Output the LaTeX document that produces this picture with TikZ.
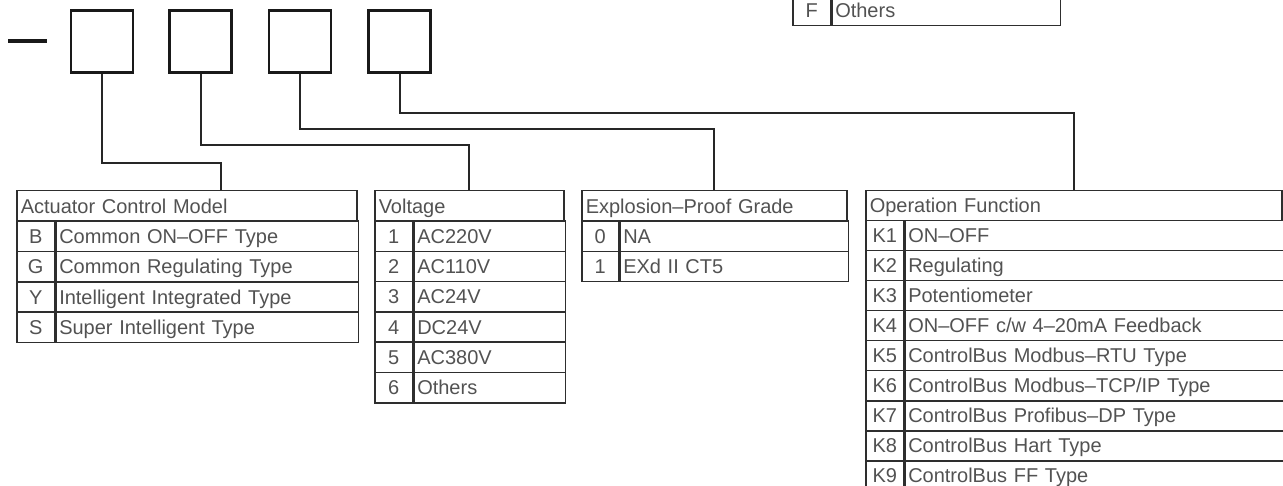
\documentclass[tikz,border=0pt]{standalone}
\usepackage{fontspec}
\setmainfont{Liberation Sans}
\begin{document}
\begin{tikzpicture}[x=1pt,y=-1pt,font=\fontsize{20}{24}\selectfont,
  digit/.style={draw=black!90,line width=2.2pt,minimum size=62pt,inner sep=0pt},
  link/.style={draw=black!85,line width=2pt},
  cellbase/.style={draw=black!82,line width=1.5pt,anchor=north west,text=black!68,
    minimum height=30.3pt,inner ysep=0pt,text height=14.4pt,text depth=0pt},
  headcell/.style={cellbase,inner xsep=4pt,align=left},
  codecell/.style={cellbase,minimum width=38pt,inner xsep=0pt},
  textcell/.style={cellbase,inner xsep=3pt,align=left}]
\useasboundingbox (0,0) rectangle (1283,486);
\clip (0,0) rectangle (1283,486);
% code boxes
\draw[line width=4.6pt,black!90] (8,41) -- (46.5,41);
\foreach \x [count=\n] in {102,200.5,300,399.5}{
  \node[digit] (box\n) at (\x,41.5) {};}
% last row of the table above
\node[codecell] (other-c) at (792,-5.3) {F};
\node[textcell,text width=222pt] (other-t) at (other-c.north east) {Others};
% actuator control model
\node[headcell,text width=332pt] (model) at (16,190) {Actuator Control Model};
\foreach \c/\t [count=\i] in {B/{Common ON–OFF Type},G/{Common Regulating Type},Y/{Intelligent Integrated Type},S/{Super Intelligent Type}}{
  \node[codecell] (model-c\i) at (16,{190+30.4*\i}) {\c};
  \node[textcell,text width=296pt] (model-t\i) at (model-c\i.north east) {\t};}
% voltage
\node[headcell,text width=181pt] (volt) at (374,190) {Voltage};
\foreach \c/\t [count=\i] in {1/AC220V,2/AC110V,3/AC24V,4/DC24V,5/AC380V,6/Others}{
  \node[codecell] (volt-c\i) at (374,{190+30.3*\i}) {\c};
  \node[textcell,text width=145pt] (volt-t\i) at (volt-c\i.north east) {\t};}
% explosion-proof grade
\node[headcell,text width=257pt] (expl) at (581,190) {Explosion–Proof Grade};
\foreach \c/\t [count=\i] in {0/NA,1/{EXd II CT5}}{
  \node[codecell,minimum width=37pt] (expl-c\i) at (581,{190+30.3*\i}) {\c};
  \node[textcell,text width=222pt] (expl-t\i) at (expl-c\i.north east) {\t};}
% operation function
\node[headcell,text width=408pt,minimum height=30pt] (oper) at (865,190) {Operation Function};
\foreach \c/\t [count=\i] in {K1/{ON–OFF},K2/{Regulating},K3/{Potentiometer},K4/{ON–OFF c/w 4–20mA Feedback},K5/{ControlBus Modbus–RTU Type},K6/{ControlBus Modbus–TCP/IP Type},K7/{ControlBus Profibus–DP Type},K8/{ControlBus Hart Type},K9/{ControlBus FF Type}}{
  \node[codecell,minimum height=30pt] (oper-c\i) at (865,{190+30*\i}) {\c};
  \node[textcell,text width=372pt,minimum height=30pt] (oper-t\i) at (oper-c\i.north east) {\t};}
% connectors
\coordinate (model-in) at ([xshift=205pt]model.north west);
\draw[link] (box1.south) -- ++(0,89) -| (model-in);
\draw[link] (box2.south) -- ++(0,71) -| (volt.north);
\draw[link] (box3.south) -- ++(0,55) -| (expl.north);
\draw[link] (box4.south) -- ++(0,39) -| (oper.north);
\end{tikzpicture}
\end{document}
